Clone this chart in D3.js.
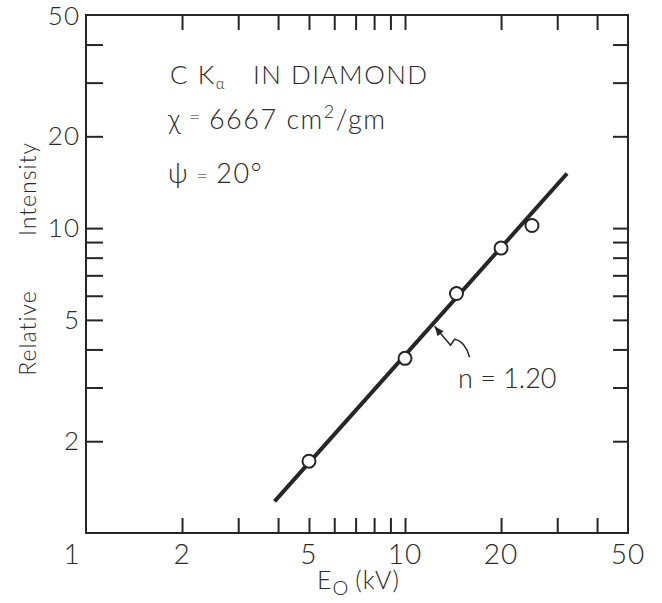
<!DOCTYPE html>
<html>
<head>
<meta charset="utf-8">
<script src="https://cdn.jsdelivr.net/npm/d3@7"></script>
<style>
  body { margin: 0; background: #fff; }
  svg text { font-family: "Lato", "DejaVu Sans", sans-serif; font-weight: 300; fill: #2a2a2a; }
</style>
</head>
<body>
<svg id="chart" width="662" height="603"></svg>
<script>
// measured points
var energy = [5, 10, 14.5, 20, 25];
var intensity = [1.72, 3.74, 6.1, 8.6, 10.2];

// fitted line n = 1.20
var fitX = [3.9, 32.2];
var fitY = [1.27, 15.1];

var minorTicks = [2, 3, 4, 5, 6, 7, 8, 9, 10, 20, 30, 40];
var xLabels = [1, 2, 5, 10, 20, 50];
var yLabels = [2, 5, 10, 20, 50];

var svg = d3.select("#chart");
var ink = "#262626";

var x = d3.scaleLog().domain([1, 50]).range([86, 628]);
var y = d3.scaleLog().domain([1, 50]).range([533, 15]);

// frame
svg.append("rect")
    .attr("x", x(1)).attr("y", y(50))
    .attr("width", x(50) - x(1)).attr("height", y(1) - y(50))
    .attr("fill", "none").attr("stroke", ink).attr("stroke-width", 2);

function tickAxis(axis, tx, ty, size) {
    var g = svg.append("g").attr("transform", "translate(" + tx + "," + ty + ")")
        .call(axis.tickValues(minorTicks).tickSize(size).tickFormat(""));
    g.select(".domain").remove();
    g.selectAll(".tick line").attr("stroke", ink).attr("stroke-width", 2);
    return g;
}

tickAxis(d3.axisBottom(x), 0, y(1), -15);
tickAxis(d3.axisTop(x), 0, y(50), -15);
tickAxis(d3.axisLeft(y), x(1), 0, -17);
tickAxis(d3.axisRight(y), x(50), 0, -15);

// tick labels
svg.append("g").selectAll("text")
    .data(xLabels).join("text")
    .attr("x", function(d) { return x(d) + (d == 1 ? -14 : 0); })
    .attr("y", 564)
    .attr("text-anchor", "middle")
    .attr("font-size", 28)
    .attr("letter-spacing", 1)
    .text(function(d) { return d; });

svg.append("g").selectAll("text")
    .data(yLabels).join("text")
    .attr("x", 80)
    .attr("y", function(d) { return Math.max(y(d) + 9, 25); })
    .attr("text-anchor", "end")
    .attr("font-size", 26)
    .attr("letter-spacing", 1)
    .text(function(d) { return d; });

// axis titles
var yt = svg.append("g").attr("transform", "translate(36,0) rotate(-90)");
yt.append("text").attr("x", -333).attr("text-anchor", "middle")
    .attr("font-size", 23).attr("letter-spacing", 1).text("Relative");
yt.append("text").attr("x", -189).attr("text-anchor", "middle")
    .attr("font-size", 23).attr("letter-spacing", 1).text("Intensity");

var xt = svg.append("text")
    .attr("x", 317).attr("y", 589)
    .attr("font-size", 25)
    .attr("letter-spacing", 1);
xt.append("tspan").text("E");
xt.append("tspan").attr("dy", 6).attr("font-size", 20).text("O");
xt.append("tspan").attr("dy", -6).attr("dx", 6).text("(kV)");

// fit line
var line = d3.line()
    .x(function(d) { return x(d[0]); })
    .y(function(d) { return y(d[1]); });

svg.append("path")
    .datum(d3.zip(fitX, fitY))
    .attr("d", line)
    .attr("fill", "none").attr("stroke", ink).attr("stroke-width", 4);

// data points
svg.append("g").selectAll("circle")
    .data(d3.zip(energy, intensity)).join("circle")
    .attr("cx", function(d) { return x(d[0]); })
    .attr("cy", function(d) { return y(d[1]); })
    .attr("r", 6.5)
    .attr("fill", "#fff").attr("stroke", ink).attr("stroke-width", 2);

// annotation: wavy arrow to the line
var tipX = 12.2;
var tipY = fitY[0] * Math.pow(tipX / fitX[0], Math.log(fitY[1] / fitY[0]) / Math.log(fitX[1] / fitX[0]));
var px = x(tipX) + 2, py = y(tipY) + 2;
var p = d3.path();
p.moveTo(px, py);
p.lineTo(px + 16, py + 19);
p.lineTo(px + 20, py + 13);
p.bezierCurveTo(px + 27, py + 14, px + 33, py + 22, px + 35, py + 31);
svg.append("path").attr("d", p.toString())
    .attr("fill", "none").attr("stroke", ink).attr("stroke-width", 1.5);
svg.append("path")
    .attr("d", "M" + px + "," + py + "L" + (px + 3) + "," + (py + 10) + "L" + (px + 9) + "," + (py + 5) + "Z")
    .attr("fill", ink);

svg.append("text")
    .attr("x", 458).attr("y", 388)
    .attr("font-size", 27)
    .attr("xml:space", "preserve")
    .text("n = 1.20");

// labels inside the plot
var t1 = svg.append("text").attr("x", 170).attr("y", 84).attr("font-size", 26).attr("letter-spacing", 1.5);
t1.append("tspan").text("C K");
t1.append("tspan").attr("dy", 5).attr("font-size", 15).text("α");
t1.append("tspan").attr("dy", -5).attr("x", 253).text("IN DIAMOND");

var t2 = svg.append("text").attr("x", 168).attr("y", 129).attr("font-size", 27).attr("letter-spacing", 1.5)
    .attr("xml:space", "preserve");
t2.append("tspan").text("χ");
t2.append("tspan").attr("dy", -5).attr("font-size", 20).text(" = ");
t2.append("tspan").attr("dy", 5).text("6667 cm");
t2.append("tspan").attr("dy", -11).attr("font-size", 18).text("2");
t2.append("tspan").attr("dy", 11).text("/gm");

var t3 = svg.append("text").attr("x", 168).attr("y", 183).attr("font-size", 27).attr("letter-spacing", 1.5)
    .attr("xml:space", "preserve");
t3.append("tspan").text("ψ");
t3.append("tspan").attr("font-size", 20).text(" = ");
t3.append("tspan").text("20°");
</script>
</body>
</html>
